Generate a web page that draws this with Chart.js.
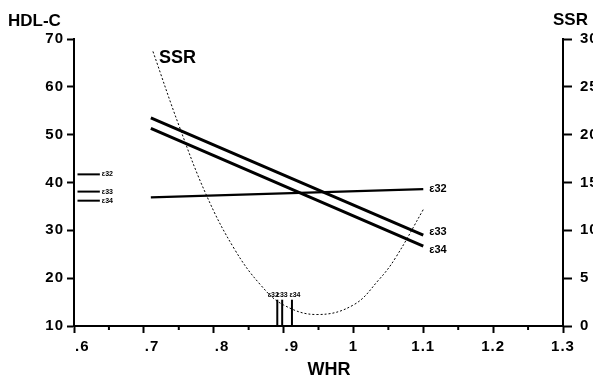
<!DOCTYPE html>
<html>
<head>
<meta charset="utf-8">
<script src="https://cdn.jsdelivr.net/npm/chart.js@4/dist/chart.umd.min.js"></script>
<style>
  html, body { margin: 0; padding: 0; background: #fff; }
  #wrap { width: 593px; height: 379px; }
</style>
</head>
<body>
<div id="wrap"><canvas id="c" width="593" height="379"></canvas></div>
<script>
// ---- data ----
const genotypes = ['ε32', 'ε33', 'ε34'];
const whrEnds = [0.71, 1.1];                 // WHR range of regression lines
const hdlE32 = [36.9, 38.6];
const hdlE33 = [53.5, 29.0];
const hdlE34 = [51.3, 26.7];
const legendWhr = [0.605, 0.637];            // short reference marks at left
const legendHdl = [41.7, 38.1, 36.2];
const meanWhr = [0.891, 0.898, 0.912];       // mean WHR markers per genotype
const meanBar = [10, 15.5];
const ssrWhr = [0.713, 0.75, 0.79, 0.83, 0.867, 0.9, 0.948, 1.0, 1.036, 1.06, 1.101];
const ssrValues = [28.7, 21.0, 13.6, 8.0, 4.3, 2.2, 1.2, 2.2, 4.8, 7.1, 12.3];
const xTickValues = [0.6, 0.7, 0.8, 0.9, 1.0, 1.1, 1.2, 1.3];
const xTickLabels = ['.6', '.7', '.8', '.9', '1', '1.1', '1.2', '1.3'];

const pts = (xs, ys) => xs.map((x, i) => ({ x: x, y: ys[i] }));
const FONT = '"Liberation Sans", Arial, sans-serif';

const datasets = [];
const lineStyle = (w) => ({ showLine: true, borderColor: '#000', borderWidth: w, pointRadius: 0, fill: false, yAxisID: 'y' });
datasets.push(Object.assign({ label: 'ε32', data: pts(whrEnds, hdlE32) }, lineStyle(2.2)));
datasets.push(Object.assign({ label: 'ε33', data: pts(whrEnds, hdlE33) }, lineStyle(3)));
datasets.push(Object.assign({ label: 'ε34', data: pts(whrEnds, hdlE34) }, lineStyle(3)));
legendHdl.forEach((h, i) => {
  datasets.push(Object.assign({ label: 'leg' + i, data: pts(legendWhr, [h, h]) }, lineStyle(2)));
});
meanWhr.forEach((w, i) => {
  datasets.push(Object.assign({ label: 'mean' + i, data: pts([w, w], meanBar) }, lineStyle(2)));
});
datasets.push({
  label: 'SSR', data: pts(ssrWhr, ssrValues), showLine: true, borderColor: '#000',
  borderWidth: 1, borderDash: [2, 2], pointRadius: 0, tension: 0.4, fill: false, yAxisID: 'y2'
});

const spacingPlugin = {
  id: 'spacing',
  beforeDraw(chart) { chart.ctx.letterSpacing = '1px'; },
  afterDatasetsDraw(chart) { chart.ctx.letterSpacing = '0px'; }
};

const textPlugin = {
  id: 'texts',
  afterDraw(chart) {
    const ctx = chart.ctx;
    const x = chart.scales.x, y = chart.scales.y;
    ctx.save();
    ctx.fillStyle = '#000';
    ctx.strokeStyle = '#000';
    // minor ticks on x axis
    ctx.lineWidth = 2;
    for (let i = 0; i < xTickValues.length - 1; i++) {
      const v = (xTickValues[i] + xTickValues[i + 1]) / 2;
      const px = x.getPixelForValue(v);
      ctx.beginPath(); ctx.moveTo(px, x.top); ctx.lineTo(px, x.top + 4); ctx.stroke();
    }
    // x tick labels (decimal-point labels sit just right of their tick)
    ctx.letterSpacing = '1px';
    ctx.font = 'bold 15px ' + FONT;
    ctx.textBaseline = 'middle';
    xTickValues.forEach((v, i) => {
      const lab = xTickLabels[i];
      const px = x.getPixelForValue(v);
      if (lab.charAt(0) === '.') { ctx.textAlign = 'left'; ctx.fillText(lab, px + 1, 347); }
      else { ctx.textAlign = 'center'; ctx.fillText(lab, px, 347); }
    });
    ctx.letterSpacing = '0px';
    // axis titles
    ctx.font = 'bold 17px ' + FONT;
    ctx.textAlign = 'left';
    ctx.fillText('HDL-C', 8, 21);
    ctx.fillText('SSR', 553, 20);
    ctx.textAlign = 'center';
    ctx.font = 'bold 18px ' + FONT;
    ctx.fillText('WHR', 329, 370);
    // curve label
    ctx.font = 'bold 18px ' + FONT;
    ctx.textAlign = 'left';
    ctx.fillText('SSR', 159, 58);
    // right-end labels
    ctx.font = 'bold 11px ' + FONT;
    const ex = x.getPixelForValue(whrEnds[1]) + 6;
    ctx.fillText(genotypes[0], ex, y.getPixelForValue(hdlE32[1]));
    ctx.fillText(genotypes[1], ex, y.getPixelForValue(hdlE33[1]) - 3);
    ctx.fillText(genotypes[2], ex, y.getPixelForValue(hdlE34[1]) + 4);
    // left legend labels
    ctx.font = 'bold 7px ' + FONT;
    legendHdl.forEach((h, i) => {
      ctx.fillText(genotypes[i], x.getPixelForValue(legendWhr[1]) + 2, y.getPixelForValue(h));
    });
    // mean WHR labels
    ctx.textAlign = 'center';
    const offs = [-4, 0, 3];
    meanWhr.forEach((w, i) => {
      ctx.fillText(genotypes[i], x.getPixelForValue(w) + offs[i], y.getPixelForValue(meanBar[1]) - 5);
    });
    ctx.restore();
  }
};

const tickFont = { family: FONT, size: 15, weight: 'bold' };

new Chart(document.getElementById('c'), {
  type: 'scatter',
  data: { datasets: datasets },
  options: {
    responsive: false,
    animation: false,
    layout: { padding: { top: 39, left: 0, right: 0, bottom: 0 } },
    plugins: { legend: { display: false }, tooltip: { enabled: false } },
    scales: {
      x: {
        type: 'linear', min: 0.6, max: 1.3,
        afterFit: (s) => { s.height = 53; },
        afterBuildTicks: (s) => { s.ticks = xTickValues.map(v => ({ value: v })); },
        ticks: { display: false, autoSkip: false },
        grid: { drawOnChartArea: false, color: '#000', tickLength: 7, tickWidth: 2 },
        border: { display: true, color: '#000', width: 2 }
      },
      y: {
        type: 'linear', position: 'left', min: 10, max: 70,
        afterFit: (s) => { s.width = 74; },
        ticks: { stepSize: 10, color: '#000', font: tickFont, padding: 3 },
        grid: { drawOnChartArea: false, color: '#000', tickLength: 7, tickWidth: 2 },
        border: { display: true, color: '#000', width: 2 }
      },
      y2: {
        type: 'linear', position: 'right', min: 0, max: 30,
        afterFit: (s) => { s.width = 30; },
        ticks: { stepSize: 5, color: '#000', font: tickFont, padding: 8 },
        grid: { drawOnChartArea: false, color: '#000', tickLength: 9, tickWidth: 2 },
        border: { display: true, color: '#000', width: 2 }
      }
    }
  },
  plugins: [spacingPlugin, textPlugin]
});
</script>
</body>
</html>
